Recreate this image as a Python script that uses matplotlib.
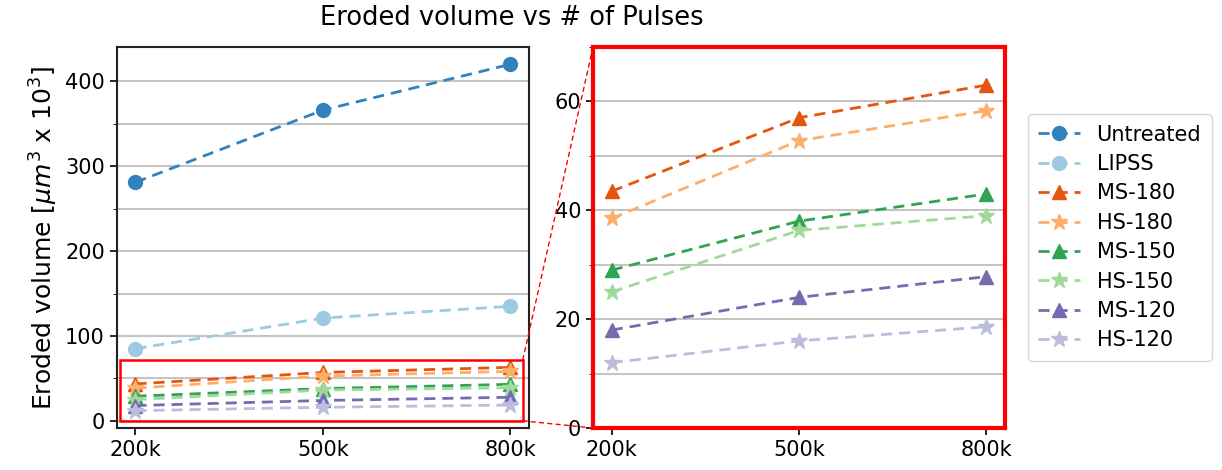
import numpy as np
import matplotlib.pyplot as plt
from matplotlib.patches import Rectangle, ConnectionPatch
from matplotlib.ticker import MultipleLocator

# number of pulses
pulses = ["200k", "500k", "800k"]

# eroded volume (um^3 x 10^3)
untreated = [281, 366, 420]
lipss = [85, 121, 135]
ms180 = [43.5, 57, 63]
hs180 = [38.5, 52.8, 58.3]
ms150 = [29, 38, 43]
hs150 = [25, 36.3, 39]
ms120 = [18, 24, 27.8]
hs120 = [12, 16, 18.6]

labels = ["Untreated", "LIPSS", "MS-180", "HS-180", "MS-150", "HS-150", "MS-120", "HS-120"]
series = [untreated, lipss, ms180, hs180, ms150, hs150, ms120, hs120]
markers = ["o", "o", "^", "*", "^", "*", "^", "*"]
colors = ["#3182bd", "#9ecae1", "#e6550d", "#fdae6b", "#31a354", "#a1d99b", "#756bb1", "#bcbddc"]

fig = plt.figure(figsize=(12.22, 4.70), dpi=100)
ax1 = fig.add_axes([0.0955, 0.0894, 0.3374, 0.8106])
ax2 = fig.add_axes([0.4853, 0.0894, 0.3372, 0.8106])

x = np.arange(len(pulses))
for ax in (ax1, ax2):
    for y, lab, m, c in zip(series, labels, markers, colors):
        ms = 12 if m == "*" else 10
        ax.plot(x, y, ls="--", marker=m, color=c, label=lab, lw=2, ms=ms,
                dashes=(4, 2.5))
    ax.set_xticks(x)
    ax.set_xticklabels(pulses)
    ax.tick_params(labelsize=15, width=1.2, length=5)
    ax.tick_params(which="minor", length=3)

ax1.yaxis.set_major_locator(MultipleLocator(100))
ax1.yaxis.set_minor_locator(MultipleLocator(50))
ax1.grid(axis="y", which="both", color="#c4c4c4", lw=1.5)
ax1.set_axisbelow(True)
ax1.set_ylabel(r"Eroded volume [$\mu m^3$ x $10^3$]", fontsize=18)
for s in ax1.spines.values():
    s.set_linewidth(1.5)
    s.set_edgecolor("#222222")

ax2.set_ylim(0, 70)
ax2.yaxis.set_major_locator(MultipleLocator(20))
ax2.yaxis.set_minor_locator(MultipleLocator(10))
ax2.grid(axis="y", which="both", color="#c4c4c4", lw=1.5)
ax2.set_axisbelow(True)
for s in ax2.spines.values():
    s.set_edgecolor("red")
    s.set_linewidth(3)

# zoom region marked on the full view
x0, x1 = -0.085, 2.067
y0, y1 = 0, 72
ax1.add_patch(Rectangle((x0, y0), x1 - x0, y1 - y0, fill=False, ec="red", lw=1.8, zorder=5))
for ya, yb in ((y1, 1), (y0, 0)):
    con = ConnectionPatch(xyA=(x1, ya), coordsA=ax1.transData,
                          xyB=(0, yb), coordsB=ax2.transAxes,
                          color="red", ls=(0, (3, 3)), lw=1)
    fig.add_artist(con)

ax2.legend(loc="center left", bbox_to_anchor=(1.03, 0.5), fontsize=15,
           handlelength=2, borderpad=0.5, labelspacing=0.45)

fig.text(0.419, 0.962, "Eroded volume vs # of Pulses", ha="center", va="center", fontsize=18.5)

fig.savefig("out.png", dpi=100)
